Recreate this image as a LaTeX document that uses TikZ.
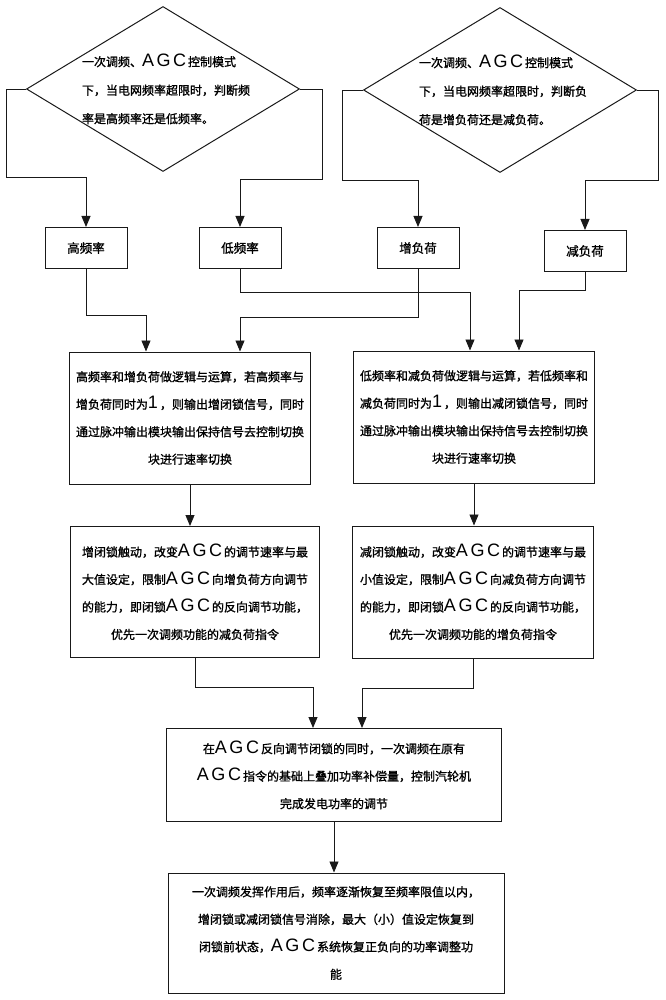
\documentclass[tikz,border=0pt]{standalone}
\usepackage{fontspec}
\setmainfont{Noto Sans CJK SC}[FakeBold=1.2]
\newfontfamily\agcfont[LetterSpace=14]{Liberation Sans}
\usepackage{tikz}
\usetikzlibrary{arrows.meta,shapes,positioning}
\usepackage{xcolor}
\definecolor{fcline}{RGB}{25,25,25}
\newcommand{\AGC}{{\agcfont\fontsize{18}{18}\selectfont AGC}\,}
\newcommand{\numone}{{\agcfont\fontsize{18}{18}\selectfont 1}}
\tikzstyle{arrow} = [line width=0.9pt,-{Triangle[length=11pt,width=9pt]},color=fcline]
\tikzstyle{decision} = [diamond, draw=fcline, line width=1pt, minimum width=273pt, minimum height=165pt, inner sep=0pt]
\tikzstyle{dtext} = [text width=172pt, align=left, font=\fontsize{12}{28.5}\selectfont]
\tikzstyle{smallbox} = [rectangle, draw=fcline, line width=1pt, minimum width=82pt, minimum height=41pt, font=\fontsize{12.5}{14}\selectfont]
\tikzstyle{textbox} = [rectangle, draw=fcline, line width=1pt, align=center, inner sep=0pt, font=\fontsize{12}{27.5}\selectfont]

\begin{document}
\begin{tikzpicture}[x=1pt,y=-1pt]
\useasboundingbox (0,0) rectangle (665,1000);

% Over-limit decisions
\node[decision, label={[dtext,xshift=5pt]center:{一次调频、\AGC 控制模式\\下，当电网频率超限时，判断频\\率是高频率还是低频率。}}] (dfreq) at (163,89) {};
\node[decision, label={[dtext,xshift=5pt]center:{一次调频、\AGC 控制模式\\下，当电网频率超限时，判断负\\荷是增负荷还是减负荷。}}] (dload) at (500,90) {};

% Signals
\node[smallbox] (hf) at (86,248) {高频率};
\node[smallbox] (lf) at (240,248) {低频率};
\node[smallbox] (il) at (418,248) {增负荷};
\node[smallbox] (dl) at (585,251) {减负荷};

% Logic AND
\node[textbox, minimum width=241pt, minimum height=132pt] (andL) at (190,418) {高频率和增负荷做逻辑与运算，若高频率与\\增负荷同时为\numone\,，则输出增闭锁信号，同时\\通过脉冲输出模块输出保持信号去控制切换\\块进行速率切换};
\node[textbox, minimum width=241pt, minimum height=132pt] (andR) at (474,417) {低频率和减负荷做逻辑与运算，若低频率和\\减负荷同时为\numone\,，则输出减闭锁信号，同时\\通过脉冲输出模块输出保持信号去控制切换\\块进行速率切换};

% Lockout
\node[textbox, minimum width=249pt, minimum height=131pt] (lockL) at (195,592) {增闭锁触动，改变\AGC 的调节速率与最\\大值设定，限制\AGC 向增负荷方向调节\\的能力，即闭锁\AGC 的反向调节功能，\\优先一次调频功能的减负荷指令};
\node[textbox, minimum width=241pt, minimum height=132pt] (lockR) at (473,592) {减闭锁触动，改变\AGC 的调节速率与最\\小值设定，限制\AGC 向减负荷方向调节\\的能力，即闭锁\AGC 的反向调节功能，\\优先一次调频功能的增负荷指令};

% Primary regulation and recovery
\node[textbox, minimum width=335pt, minimum height=93pt] (merge) at (334,775) {在\AGC 反向调节闭锁的同时，一次调频在原有\\\AGC 指令的基础上叠加功率补偿量，控制汽轮机\\完成发电功率的调节};
\node[textbox, minimum width=336pt, minimum height=120pt] (restore) at (336,933) {一次调频发挥作用后，频率逐渐恢复至频率限值以内，\\增闭锁或减闭锁信号消除，最大（小）值设定恢复到\\闭锁前状态，\AGC 系统恢复正负向的功率调整功\\能};

% Arrows
\draw[arrow] (dfreq.west) -- ++(-20,0) -- ++(0,88) -| (hf.north);
\draw[arrow] (dfreq.east) -- ++(22,0) -- ++(0,90) -| (lf.north);
\draw[arrow] (dload.west) -- ++(-21,0) -- ++(0,90) -| (il.north);
\draw[arrow] (dload.east) -- ++(21,0) -- ++(0,90) -| (dl.north);
\draw[arrow] (hf.south) -- ++(0,46) -| ([xshift=-44pt]andL.north);
\draw[arrow] (il.south) -- ++(0,48) -| ([xshift=50pt]andL.north);
\draw[arrow] (lf.south) -- ++(0,23) -| ([xshift=-4pt]andR.north);
\draw[arrow] (dl.south) -- ++(0,18) -| ([xshift=45pt]andR.north);
\draw[arrow] (andL.south) -- (andL.south |- lockL.north);
\draw[arrow] (andR.south) -- (andR.south |- lockR.north);
\draw[arrow] (lockL.south) -- ++(0,29) -| ([xshift=-21pt]merge.north);
\draw[arrow] (lockR.south) -- ++(0,30) -| ([xshift=28pt]merge.north);
\draw[arrow] (merge.south) -- (merge.south |- restore.north);
\end{tikzpicture}
\end{document}
